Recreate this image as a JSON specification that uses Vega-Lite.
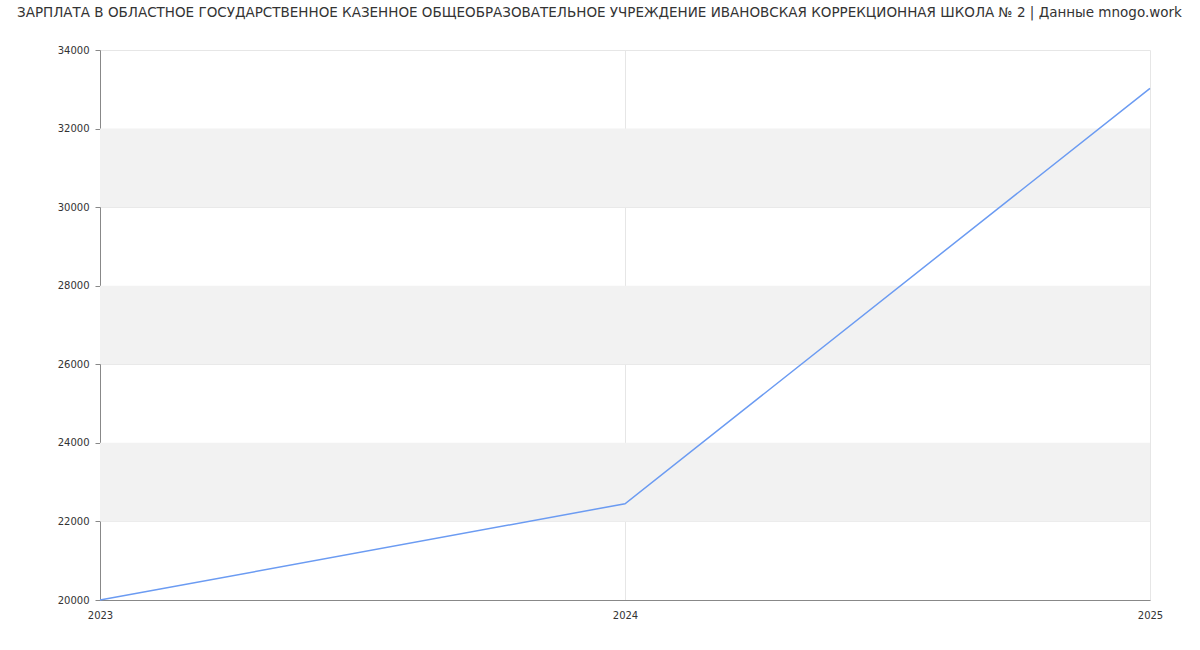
{
  "$schema": "https://vega.github.io/schema/vega-lite/v6.json",
  "width": 1050,
  "height": 550,
  "autosize": {"type": "none"},
  "padding": {"left": 100, "top": 50, "right": 50, "bottom": 50},
  "background": "#ffffff",
  "title": {
    "text": "ЗАРПЛАТА В ОБЛАСТНОЕ ГОСУДАРСТВЕННОЕ КАЗЕННОЕ ОБЩЕОБРАЗОВАТЕЛЬНОЕ УЧРЕЖДЕНИЕ ИВАНОВСКАЯ КОРРЕКЦИОННАЯ ШКОЛА № 2 | Данные mnogo.work",
    "font": "DejaVu Sans",
    "fontSize": 13.5,
    "fontWeight": "normal",
    "color": "#333333",
    "anchor": "start",
    "frame": "group",
    "orient": "top",
    "baseline": "bottom",
    "offset": 12,
    "dx": -83
  },
  "config": {
    "view": {"stroke": null},
    "axis": {
      "labelFont": "DejaVu Sans",
      "labelFontSize": 10,
      "labelColor": "#333333",
      "gridColor": "#e6e6e6",
      "domainColor": "#888888",
      "tickColor": "#888888"
    }
  },
  "datasets": {
    "bands": [
      {"from": 22000, "to": 24000},
      {"from": 26000, "to": 28000},
      {"from": 30000, "to": 32000}
    ],
    "salary": [
      {"year": "2023", "salary": 20000},
      {"year": "2024", "salary": 22450},
      {"year": "2025", "salary": 33025}
    ]
  },
  "layer": [
    {
      "data": {"name": "bands"},
      "mark": {"type": "rect", "color": "#f2f2f2"},
      "encoding": {
        "y": {"field": "from", "type": "quantitative", "scale": {"domain": [20000, 34000]}},
        "y2": {"field": "to"}
      }
    },
    {
      "data": {"name": "salary"},
      "mark": {"type": "line", "color": "#6b9bf2", "strokeWidth": 1.5},
      "encoding": {
        "x": {
          "field": "year",
          "type": "ordinal",
          "scale": {"type": "point", "padding": 0},
          "axis": {
            "title": null,
            "labelAngle": 0,
            "grid": true,
            "tickSize": 0,
            "labelPadding": 10,
            "labelOverlap": false,
            "labelDx": -2
          }
        },
        "y": {
          "field": "salary",
          "type": "quantitative",
          "scale": {"domain": [20000, 34000], "nice": false, "zero": false},
          "axis": {
            "title": null,
            "values": [20000, 22000, 24000, 26000, 28000, 30000, 32000, 34000],
            "format": "d",
            "grid": true,
            "tickSize": 5,
            "labelPadding": 6
          }
        }
      }
    }
  ]
}
